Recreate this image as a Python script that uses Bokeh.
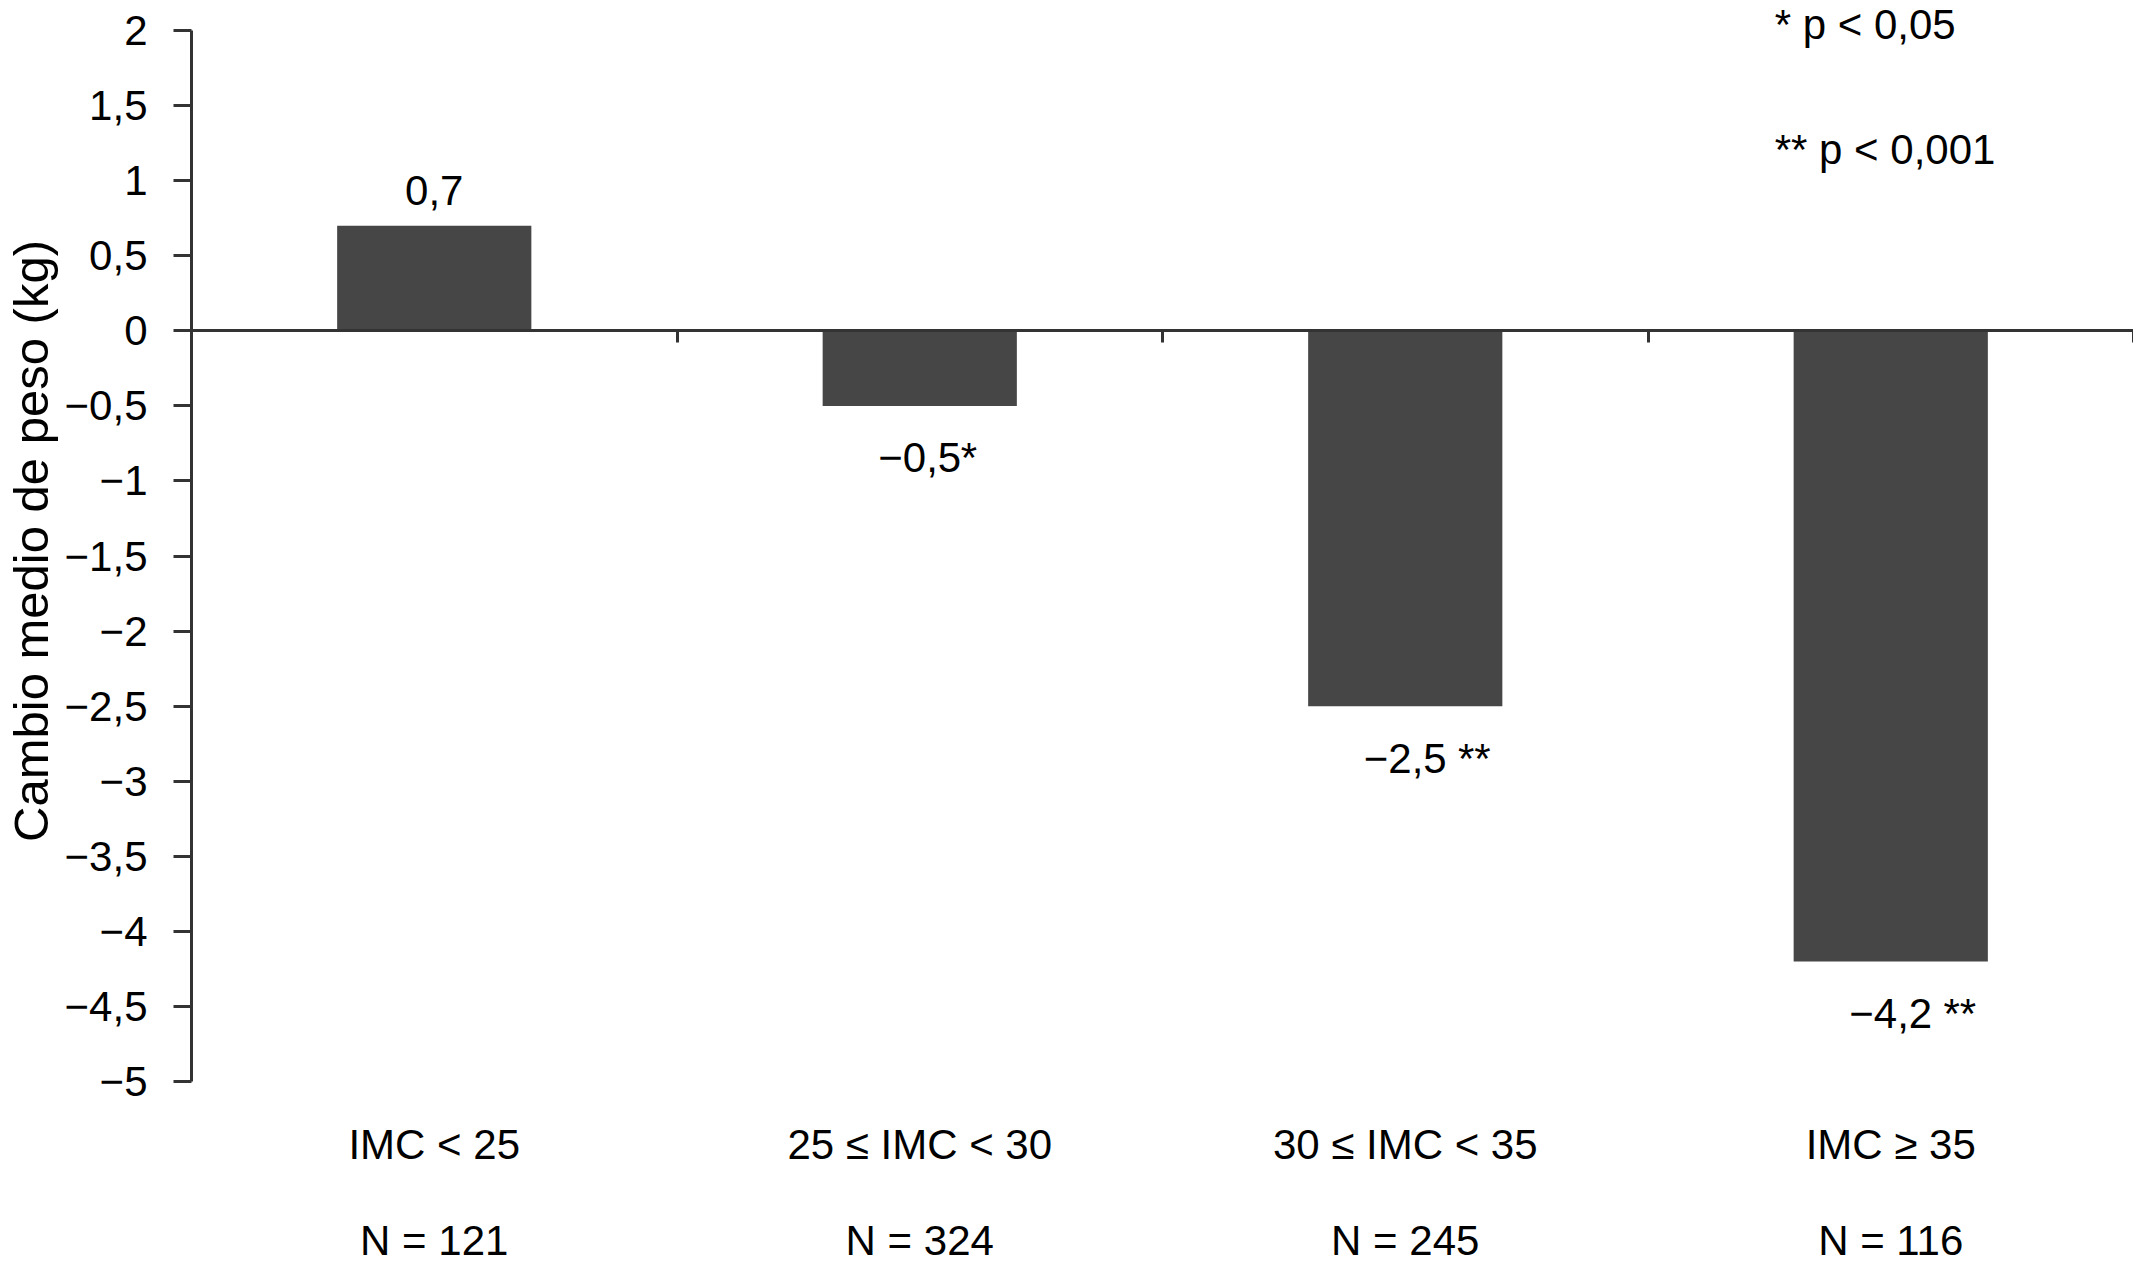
from bokeh.plotting import figure
from bokeh.models import (Range1d, LinearAxis, FixedTicker,
                          CustomJSTickFormatter, Label, ColumnDataSource)
from bokeh.embed import file_html
from bokeh.resources import INLINE
from bokeh.core.properties import value

# ---- data ----
categories = ["IMC < 25", "25 ≤ IMC < 30", "30 ≤ IMC < 35", "IMC ≥ 35"]
n_labels = ["N = 121", "N = 324", "N = 245", "N = 116"]
changes = [0.7, -0.5, -2.5, -4.2]
significance = ["", "*", "\u00a0**", "\u00a0**"]
y_ticks = [2, 1.5, 1, 0.5, 0, -0.5, -1, -1.5, -2, -2.5, -3, -3.5, -4, -4.5, -5]
notes = ["* p < 0,05", "** p < 0,001"]

FONT = "Liberation Sans"
FS = "42px"
AXIS_COLOR = "#333333"
BAR_COLOR = "#464646"


def fmt(v):
    s = f"{abs(v):.1f}".replace(".", ",")
    return ("\u2212" if v < 0 else "") + s


n = len(categories)
centers = [i + 0.5 for i in range(n)]          # slot centres on a 0..n axis
labels = [fmt(v) for v in changes]

pos = [i for i, v in enumerate(changes) if v >= 0]
neg = [i for i, v in enumerate(changes) if v < 0]

src = ColumnDataSource(dict(x=centers, val=changes))
pos_src = ColumnDataSource(dict(x=[centers[i] for i in pos], val=[changes[i] for i in pos],
                                lab=[labels[i] for i in pos]))
neg_src = ColumnDataSource(dict(x=[centers[i] for i in neg], val=[changes[i] for i in neg],
                                lab=[labels[i] for i in neg], sig=[significance[i] for i in neg]))

y_top = y_ticks[0] + 0.2   # headroom above the axis for the notes

p = figure(width=2133, height=1266,
           x_range=Range1d(0, n), y_range=Range1d(y_ticks[-1], y_top),
           output_backend="svg", toolbar_location=None,
           x_axis_location=None, y_axis_location="left",
           min_border_left=185, min_border_right=0, min_border_top=0, min_border_bottom=182)
p.grid.visible = False
p.outline_line_color = None
p.background_fill_color = "white"
p.border_fill_color = "white"

# y axis
ya = p.yaxis[0]
ya.bounds = (y_ticks[-1], y_ticks[0])
ya.ticker = FixedTicker(ticks=y_ticks)
ya.formatter = CustomJSTickFormatter(code="return tick.toString().replace('.', ',').replace('-', '\u2212');")
ya.axis_line_width = 3
ya.axis_line_color = AXIS_COLOR
ya.major_tick_line_width = 3
ya.major_tick_line_color = AXIS_COLOR
ya.major_tick_out = 18
ya.major_tick_in = 0
ya.minor_tick_line_color = None
ya.major_label_text_font = FONT
ya.major_label_text_font_size = FS
ya.major_label_text_color = "black"
ya.major_label_standoff = 26
ya.axis_label = "Cambio medio de peso (kg)"
ya.axis_label_text_font = FONT
ya.axis_label_text_font_size = "49px"
ya.axis_label_text_font_style = "normal"
ya.axis_label_text_color = "black"
ya.axis_label_standoff = 4

# zero axis with category boundary ticks
zero_axis = LinearAxis(fixed_location=0,
                       ticker=FixedTicker(ticks=list(range(n + 1))),
                       formatter=CustomJSTickFormatter(code="return '';"),
                       axis_line_width=3, axis_line_color=AXIS_COLOR,
                       major_tick_out=12, major_tick_in=0, major_tick_line_width=3,
                       major_tick_line_color=AXIS_COLOR, minor_tick_line_color=None)
p.add_layout(zero_axis, "below")

# category labels
cat_axis = LinearAxis(ticker=FixedTicker(ticks=centers),
                      major_label_overrides={c: t for c, t in zip(centers, categories)},
                      axis_line_color=None, major_tick_line_color=None, minor_tick_line_color=None,
                      major_label_text_font=FONT, major_label_text_font_size=FS,
                      major_label_text_color="black", major_label_standoff=33)
p.add_layout(cat_axis, "below")

# N labels
n_axis = LinearAxis(ticker=FixedTicker(ticks=centers),
                    major_label_overrides={c: t for c, t in zip(centers, n_labels)},
                    axis_line_color=None, major_tick_line_color=None, minor_tick_line_color=None,
                    major_label_text_font=FONT, major_label_text_font_size=FS,
                    major_label_text_color="black", major_label_standoff=40)
p.add_layout(n_axis, "below")

# bars
p.vbar(x="x", top="val", bottom=0, width=0.4, source=src,
       fill_color=BAR_COLOR, line_color=None)

# value labels
p.text(x="x", y="val", text="lab", source=pos_src, text_align="center",
       text_baseline="alphabetic", y_offset=-35, text_font=value(FONT),
       text_font_size=FS, text_color="black")
p.text(x="x", y="val", text="lab", source=neg_src, text_align="center",
       text_baseline="alphabetic", y_offset=52, text_font=value(FONT),
       text_font_size=FS, text_color="black")
p.text(x="x", y="val", text="sig", source=neg_src, text_align="left",
       text_baseline="alphabetic", x_offset=41, y_offset=52, text_font=value(FONT),
       text_font_size=FS, text_color="black")

# significance notes
for txt, yy in zip(notes, [2.037, 1.208]):
    p.add_layout(Label(x=3.261, y=yy, text=txt, text_font=FONT,
                       text_font_size=FS, text_color="black", text_baseline="alphabetic",
                       text_align="left"))

open("out.html", "w").write(file_html(p, INLINE))
